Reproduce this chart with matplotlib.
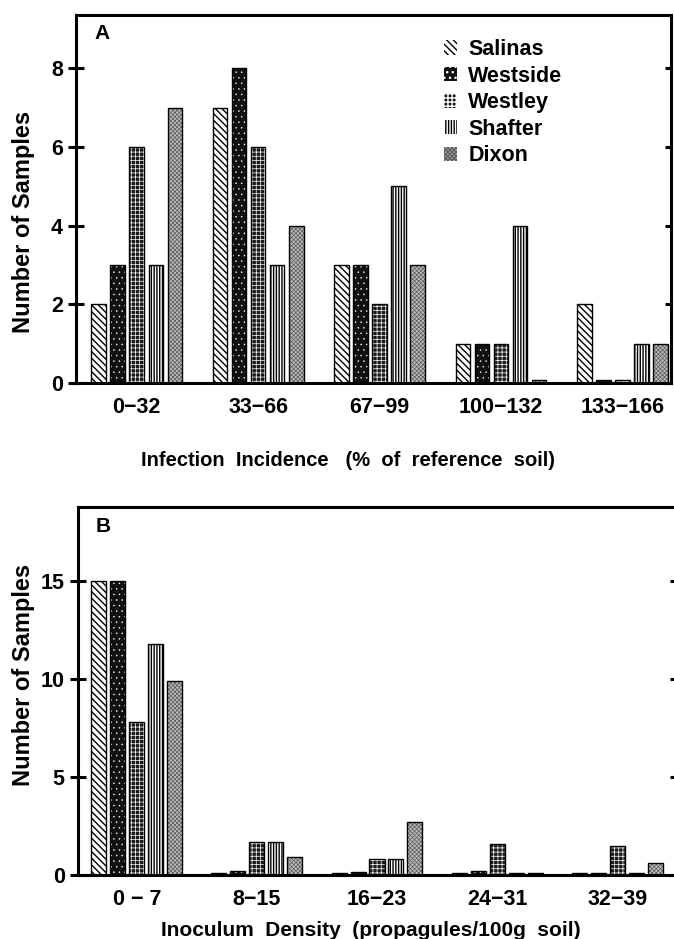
import matplotlib
matplotlib.use("Agg")
import matplotlib.pyplot as plt
import matplotlib.lines as mlines
import numpy as np

plt.rcParams["font.family"] = ["Liberation Sans", "DejaVu Sans"]
plt.rcParams["font.weight"] = "bold"
plt.rcParams["axes.labelweight"] = "bold"

# data
sites = ["Salinas", "Westside", "Westley", "Shafter", "Dixon"]

incidence_bins = ["0\u221232", "33\u221266", "67\u221299", "100\u2212132", "133\u2212166"]
incidence_counts = {
    "Salinas": [2, 7, 3, 1, 2],
    "Westside": [3, 8, 3, 1, 0.08],
    "Westley": [6, 6, 2, 1, 0.08],
    "Shafter": [3, 3, 5, 4, 1],
    "Dixon": [7, 4, 3, 0.08, 1],
}

density_bins = ["0 \u2212 7", "8\u221215", "16\u221223", "24\u221231", "32\u221239"]
density_counts = {
    "Salinas": [15, 0.12, 0.12, 0.12, 0.1],
    "Westside": [15, 0.2, 0.15, 0.2, 0.12],
    "Westley": [7.8, 1.7, 0.8, 1.6, 1.5],
    "Shafter": [11.8, 1.7, 0.8, 0.08, 0.08],
    "Dixon": [9.9, 0.9, 2.7, 0.08, 0.6],
}

# fill styles per site: (facecolor, hatch colour, hatch, hatch linewidth)
styles = {
    "Salinas": ("white", "black", "\\\\\\\\\\", 1.0),
    "Westside": ("#111111", "white", "...", 0.3),
    "Westley": ("#1a1a1a", "white", "++++", 0.5),
    "Shafter": ("white", "black", "||||||", 1.0),
    "Dixon": ("#bcbcbc", "#5a5a5a", "xxxxxxxx", 0.5),
}


def draw_panel(ax, bins, counts, width, step):
    x = np.arange(len(bins))
    for i, site in enumerate(sites):
        fc, hc, hatch, hlw = styles[site]
        pos = x + (i - 2) * step
        with plt.rc_context({"hatch.linewidth": hlw}):
            bars = ax.bar(pos, counts[site], width, color=fc, edgecolor=hc,
                          hatch=hatch, linewidth=0, label=site, zorder=2)
            for b in bars:
                if hasattr(b, "set_hatch_linewidth"):
                    b.set_hatch_linewidth(hlw)
        ax.bar(pos, counts[site], width, fill=False, edgecolor="black",
               linewidth=1.0, zorder=3)
    ax.set_xticks(x)
    ax.set_xticklabels(bins, fontsize=15.5)
    ax.tick_params(axis="x", length=0, pad=10)
    for side in ["left", "bottom", "top", "right"]:
        ax.spines[side].set_linewidth(2.2)


def style_yticks(ax, ticks):
    ax.set_yticks(ticks)
    ax.tick_params(axis="y", direction="inout", length=11, width=2.2,
                   labelsize=15.5, pad=4, right=True)
    # right-hand ticks point inward only
    for t in ax.yaxis.get_ticklines()[1::2]:
        t.set_marker(mlines.TICKLEFT)
        t.set_markersize(4.5)


fig = plt.figure(figsize=(6.74, 9.39), dpi=100)

# panel A
ax1 = fig.add_axes([0.1128, 0.5921, 0.8827, 0.3919])
draw_panel(ax1, incidence_bins, incidence_counts, 0.12, 0.157)
ax1.set_xlim(-0.5, 4.40)
ax1.set_ylim(0, 9.35)
style_yticks(ax1, [0, 2, 4, 6, 8])
ax1.text(0.044, 0.951, "A", transform=ax1.transAxes, fontsize=15,
         ha="center", va="center")
ax1.set_ylabel("Number of Samples", fontsize=17)
ax1.yaxis.set_label_coords(-0.069, 0.4375)
ax1.set_xlabel("Infection  Incidence   (%  of  reference  soil)", fontsize=14.5)
ax1.xaxis.set_label_coords(0.457, -0.185)
ax1.legend(loc="upper left", bbox_to_anchor=(0.618, 0.935), frameon=False,
           fontsize=15.5, handlelength=0.6, handleheight=0.65, handletextpad=0.55,
           labelspacing=0.26, borderaxespad=0, borderpad=0)

# panel B
ax2 = fig.add_axes([0.1157, 0.0682, 0.8873, 0.3919])
draw_panel(ax2, density_bins, density_counts, 0.125, 0.158)
ax2.set_xlim(-0.49, 4.49)
ax2.set_ylim(0, 18.8)
style_yticks(ax2, [0, 5, 10, 15])
ax2.spines["right"].set_visible(False)
ax2.text(0.042, 0.946, "B", transform=ax2.transAxes, fontsize=15,
         ha="center", va="center")
ax2.set_ylabel("Number of Samples", fontsize=17)
ax2.yaxis.set_label_coords(-0.072, 0.543)
ax2.set_xlabel("Inoculum  Density  (propagules/100g  soil)", fontsize=15)
ax2.xaxis.set_label_coords(0.49, -0.125)

fig.savefig("out.png", dpi=100)
